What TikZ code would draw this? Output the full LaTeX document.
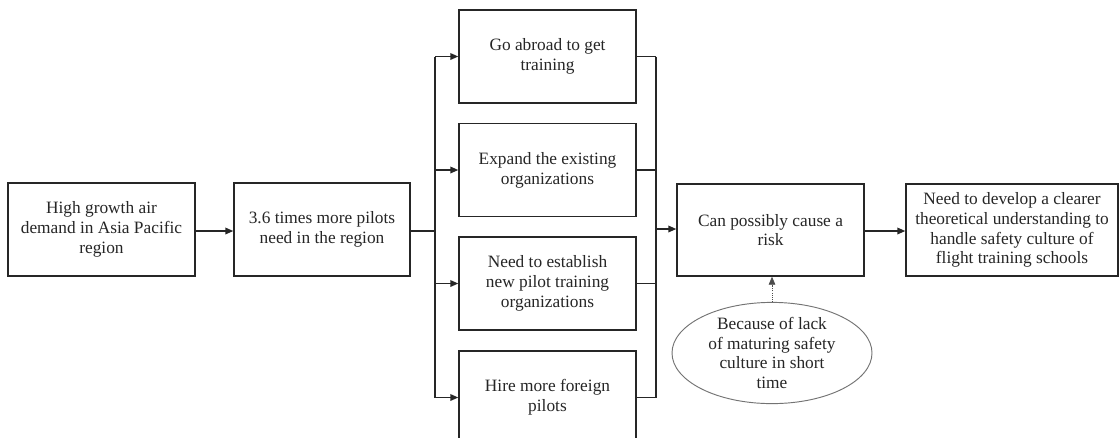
\documentclass[tikz,border=0pt]{standalone}
\usepackage{fontspec}
\setmainfont{Liberation Serif}
\usetikzlibrary{arrows.meta,shapes.geometric}
\tikzset{
  box/.style={draw=black!85, line width=1.1pt, fill=white, align=center, inner sep=0pt, font=\fontsize{13}{14.8}\selectfont, text=black!85},
  conn/.style={draw=black!85, line width=1.1pt},
  arr/.style={conn, -{Triangle[length=6pt,width=5pt]}},
  dotarr/.style={draw=black!70, line width=0.6pt, densely dotted, -{Triangle[length=6pt,width=5pt]}}
}
\begin{document}
\begin{tikzpicture}[x=0.75pt,y=-0.75pt]
\useasboundingbox (0,0) rectangle (1119,437);
\clip (0,0) rectangle (1119,437);
\fill[white] (0,0) rectangle (1119,437);
\node[box, minimum width=140.25pt, minimum height=69.75pt] (b1) at (101.5,229.5) {High growth air\\demand in Asia Pacific\\region};
\node[box, minimum width=132pt, minimum height=69.75pt] (b2) at (322,229.5) {3.6 times more pilots\\need in the region};
\node[box, minimum width=132.75pt, minimum height=69.75pt] (oA) at (547.5,56.5) {Go abroad to get\\training};
\node[box, minimum width=132.75pt, minimum height=69.75pt] (oB) at (547.5,170) {Expand the existing\\organizations};
\node[box, minimum width=132.75pt, minimum height=69.75pt] (oC) at (547.5,283.5) {Need to establish\\new pilot training\\organizations};
\node[box, minimum width=132.75pt, minimum height=69.75pt] (oD) at (547.5,397.5) {Hire more foreign\\pilots};
\node[box, minimum width=140.25pt, minimum height=69pt] (risk) at (770.5,230) {Can possibly cause a\\risk};
\node[box, minimum width=159pt, minimum height=69pt] (fin) at (1012,230) {Need to develop a clearer\\theoretical understanding to\\handle safety culture of\\flight training schools};
\node[box, ellipse, draw=black!55, line width=0.7pt, minimum width=150pt, minimum height=72.75pt] (ell) at (772,353) {Because of lack\\of maturing safety\\culture in short\\time};
\coordinate (busL) at (435,231);
\coordinate (busR) at (656,229);
\draw[arr] (b1.east |- 0,231) -- (b2.west |- 0,231);
\draw[conn] (b2.east |- busL) -- (busL);
\draw[conn] (busL |- oA) -- (busL |- oD);
\foreach \o in {oA,oB,oC,oD} {
  \draw[arr] (busL |- \o) -- (\o.west);
  \draw[conn] (\o.east) -- (busR |- \o);
}
\draw[conn] (busR |- oA) -- (busR |- oD);
\draw[arr] (busR) -- (risk.west |- busR);
\draw[arr] (risk.east |- 0,231) -- (fin.west |- 0,231);
\draw[dotarr] (ell.north) -- (ell.north |- risk.south);
\end{tikzpicture}
\end{document}
